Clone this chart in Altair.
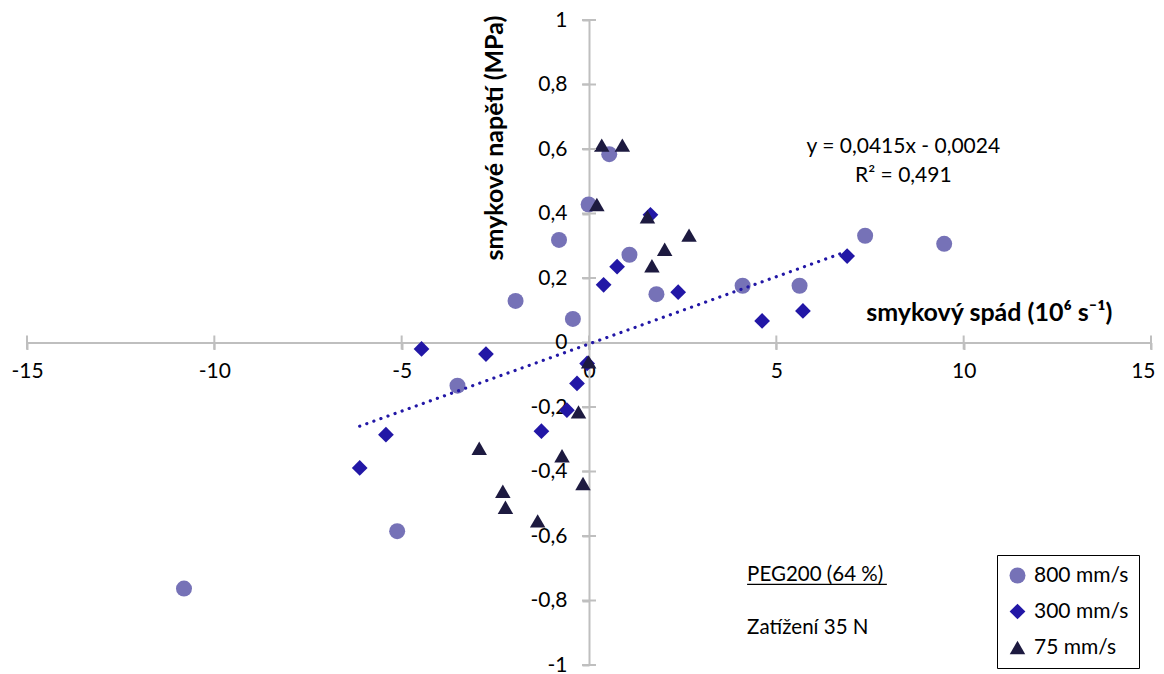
import altair as alt
import pandas as pd

# ---------------- data ----------------
series_names = ["800 mm/s", "300 mm/s", "75 mm/s"]
series_colors = ["#7672B7", "#2217A6", "#1D1A40"]
series_shapes = ["circle", "diamond", "triangle-up"]
series_sizes = [256, 240, 300]

x800 = [0.54, -0.01, -0.80, 1.08, -1.96, 1.80, -0.43, 4.10, 7.37, 9.48, 5.62, -3.51, -5.12, -10.81]
y800 = [0.584, 0.428, 0.318, 0.272, 0.129, 0.150, 0.073, 0.176, 0.331, 0.306, 0.176, -0.134, -0.585, -0.763]

x300 = [1.64, 0.75, 0.39, 2.38, -4.47, -2.75, -0.05, -0.32, -0.59, -1.27, -5.42, -6.12, 6.89, 4.62, 5.71]
y300 = [0.396, 0.235, 0.179, 0.156, -0.020, -0.036, -0.065, -0.127, -0.210, -0.275, -0.286, -0.389, 0.268, 0.067, 0.098]

x75 = [0.34, 0.89, 0.21, 1.56, 2.67, 2.02, 1.68, -0.01, -0.28, -2.93, -0.72, -0.16, -2.30, -2.23, -1.37]
y75 = [0.612, 0.612, 0.428, 0.390, 0.333, 0.289, 0.238, -0.060, -0.215, -0.328, -0.351, -0.437, -0.461, -0.511, -0.553]

x_ticks = [-15, -10, -5, 0, 5, 10, 15]
y_ticks = [-1, -0.8, -0.6, -0.4, -0.2, 0, 0.2, 0.4, 0.6, 0.8, 1]

x_title = "smykový spád (10⁶ s⁻¹)"
y_title = "smykové napětí (MPa)"
eq_text = "y = 0,0415x - 0,0024"
r2_text = "R² = 0,491"
note1 = "PEG200 (64 %)"
note2 = "Zatížení 35 N"

# ---------------- tables ----------------
rows = []
for name, xs_, ys_ in zip(series_names, [x800, x300, x75], [y800, y300, y75]):
    for a, b in zip(xs_, ys_):
        rows.append({"x": a, "y": b, "series": name})
df = pd.DataFrame(rows)

FONT = "Lato"
W, H = 1124, 645
AX = "#BFBFBF"

xs = alt.Scale(domain=[-15, 15], nice=False, zero=False)
ys = alt.Scale(domain=[-1, 1], nice=False, zero=False)

XAXIS = alt.Axis(
    values=x_ticks, offset=-H / 2, domainColor=AX, domainWidth=2,
    ticks=True, tickColor=AX, tickWidth=2, tickSize=7,
    labelFont=FONT, labelFontSize=21, labelColor="black", labelPadding=11,
    labelFlush=False, labelOverlap=False, grid=False, title=None,
    labelAlign={"condition": {"test": "datum.value >= 15", "value": "right"}, "value": "center"},
    labelOffset={"condition": {"test": "datum.value >= 15", "value": 4}, "value": 0},
    labelExpr="(datum.value < 0 ? '-' : '') + format(abs(datum.value), 'd')",
)
YAXIS = alt.Axis(
    values=y_ticks, offset=-W / 2, domainColor=AX, domainWidth=2,
    ticks=True, tickColor=AX, tickWidth=2, tickSize=7,
    labelFont=FONT, labelFontSize=21, labelColor="black", labelPadding=15,
    labelFlush=False, labelOverlap=False, grid=False, title=None,
    labelExpr="(datum.value < -0.001 ? '-' : '') + replace(format(abs(datum.value), '.1~f'), '.', ',')",
)

tick_half_y = 7 / H * 2      # in y data units
tick_half_x = 7 / W * 30     # in x data units
xt = pd.DataFrame({"v": x_ticks, "lo": [-tick_half_y] * len(x_ticks), "hi": [tick_half_y] * len(x_ticks)})
yt = pd.DataFrame({"v": y_ticks, "lo": [-tick_half_x] * len(y_ticks), "hi": [tick_half_x] * len(y_ticks)})

legend = alt.Legend(
    title=None, orient="none", legendX=970, legendY=535,
    strokeColor="black", fillColor="white",
    padding=10, labelFont=FONT, labelFontSize=21, labelColor="black",
    symbolSize=220, symbolStrokeWidth=0, symbolOpacity=1,
    rowPadding=14, labelOffset=6, cornerRadius=0,
)

points = alt.Chart(df).mark_point(filled=True, opacity=1, strokeWidth=0).encode(
    x=alt.X("x:Q", scale=xs, axis=XAXIS),
    y=alt.Y("y:Q", scale=ys, axis=YAXIS),
    color=alt.Color("series:N", scale=alt.Scale(domain=series_names, range=series_colors), legend=legend),
    shape=alt.Shape("series:N", scale=alt.Scale(domain=series_names, range=series_shapes), legend=legend),
    size=alt.Size("series:N", scale=alt.Scale(domain=series_names, range=series_sizes), legend=None),
)

xticks = alt.Chart(xt).mark_rule(color=AX, strokeWidth=2).encode(
    x=alt.X("v:Q", scale=xs, axis=XAXIS),
    y=alt.Y("lo:Q", scale=ys, axis=YAXIS),
    y2="hi:Q",
)
yticks = alt.Chart(yt).mark_rule(color=AX, strokeWidth=2).encode(
    y=alt.Y("v:Q", scale=ys, axis=YAXIS),
    x=alt.X("lo:Q", scale=xs, axis=XAXIS),
    x2="hi:Q",
)

trend = alt.Chart(df).transform_filter(
    alt.datum.series == "300 mm/s"
).transform_regression("x", "y").mark_line(
    color="#2217A6", strokeWidth=3.2, strokeDash=[0.1, 7.4], strokeCap="round"
).encode(
    x=alt.X("x:Q", scale=xs, axis=XAXIS),
    y=alt.Y("y:Q", scale=ys, axis=YAXIS),
)

def text_layer(label, tx, ty, **kw):
    d = pd.DataFrame({"label": [label], "tx": [tx], "ty": [ty]})
    return alt.Chart(d).mark_text(font=FONT, color="black", **kw).encode(
        x=alt.X("tx:Q", scale=xs, axis=XAXIS),
        y=alt.Y("ty:Q", scale=ys, axis=YAXIS),
        text="label:N",
    )

t_x = text_layer(x_title, 13.97, 0.0915, fontSize=25, fontWeight="bold", align="right", baseline="middle")
t_y = text_layer(y_title, -2.50, 0.634, fontSize=25, fontWeight="bold", align="center", baseline="middle", angle=270)
t_eq = text_layer(eq_text, 8.39, 0.607, fontSize=21, align="center", baseline="middle")
t_r2 = text_layer(r2_text, 8.39, 0.517, fontSize=21, align="center", baseline="middle")
t_n1 = text_layer(note1, 4.22, -0.721, fontSize=20.5, align="left", baseline="middle")
t_n2 = text_layer(note2, 4.22, -0.884, fontSize=20.5, align="left", baseline="middle")

ul = pd.DataFrame({"a": [4.22], "b": [7.95], "c": [-0.750]})
underline = alt.Chart(ul).mark_rule(color="black", strokeWidth=1.3).encode(
    x=alt.X("a:Q", scale=xs, axis=XAXIS),
    x2="b:Q",
    y=alt.Y("c:Q", scale=ys, axis=YAXIS),
)

chart = alt.layer(
    points, xticks, yticks, trend, t_x, t_y, t_eq, t_r2, t_n1, t_n2, underline
).properties(
    width=W, height=H,
    padding={"left": 19, "top": 12, "right": 5, "bottom": 9},
    autosize=alt.AutoSizeParams(type="none"),
).configure_view(stroke=None)

chart.save("out.html", embed_options={"renderer": "svg", "actions": False})
